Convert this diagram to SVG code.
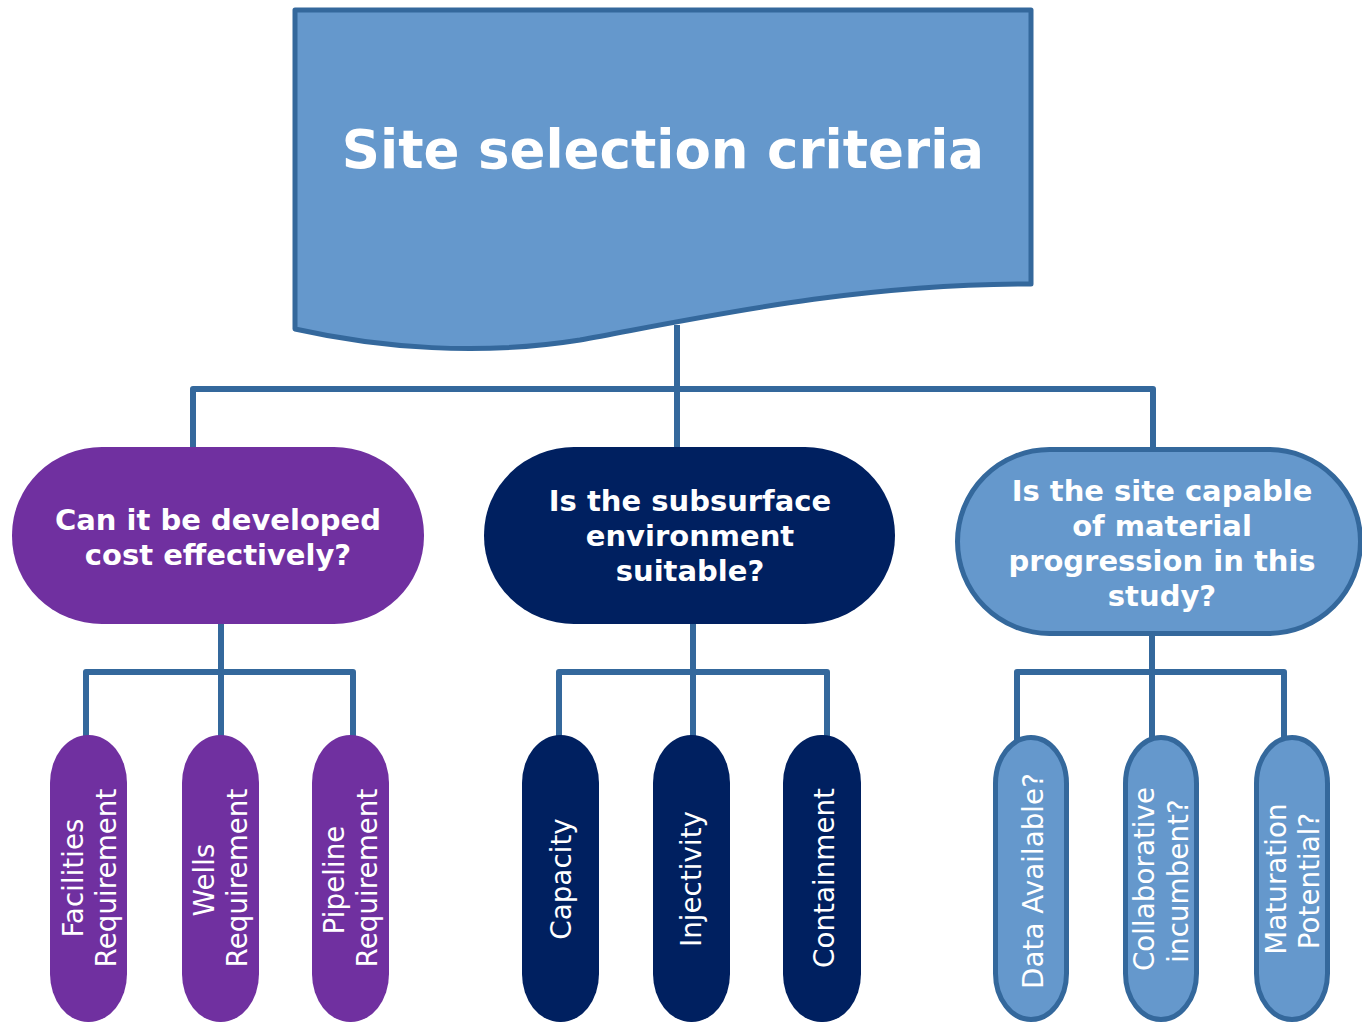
<svg xmlns="http://www.w3.org/2000/svg" width="1362" height="1023" viewBox="0 0 1362 1023">
<style>
.conn{fill:none;stroke:#34689c;stroke-width:6;stroke-linejoin:round}
.purple{fill:#7030a0}
.navy{fill:#002060}
.light{fill:#6598cc;stroke:#34689c;stroke-width:5}
.bold{font-family:"DejaVu Sans",Verdana,sans-serif;font-weight:bold;fill:#fff;text-anchor:middle}
.mid{font-size:29px}
.small{font-family:"DejaVu Sans",Verdana,sans-serif;font-size:27.8px;fill:#fff;text-anchor:middle}
</style>
<g id="connectors">
<path class="conn" d="M677,325 V389 M193,450 V389 H1153 V452 M677,389 V450"/>
<path class="conn" d="M221,622 V672 M86,738 V672 H353 V738 M221,672 V738"/>
<path class="conn" d="M693,622 V672 M559,738 V672 H827 V738 M693,672 V738"/>
<path class="conn" d="M1152,632 V672 M1017,740 V672 H1284 V740 M1152,672 V740"/>
</g>
<g id="root">
<path d="M295,10 L1031,10 L1031,284 C850,284 700,318 580,340 C480,356 380,348 295,329 Z" fill="#6598cc" stroke="#34689c" stroke-width="5" stroke-linejoin="round"/>
<text class="bold" x="663" y="168" font-size="53">Site selection criteria</text>
</g>
<g id="cost">
<rect class="purple" x="12" y="447" width="412" height="177" rx="90" ry="88"/>
<text class="bold mid" x="218" y="530">Can it be developed</text>
<text class="bold mid" x="218" y="565">cost effectively?</text>
</g>
<g id="subsurface">
<rect class="navy" x="484" y="447" width="411" height="177" rx="90" ry="88"/>
<text class="bold mid" x="690" y="511">Is the subsurface</text>
<text class="bold mid" x="690" y="546">environment</text>
<text class="bold mid" x="690" y="581">suitable?</text>
</g>
<g id="progression">
<rect class="light" x="957.5" y="449.5" width="403" height="184" rx="92" ry="92"/>
<text class="bold mid" x="1162" y="501">Is the site capable</text>
<text class="bold mid" x="1162" y="536">of material</text>
<text class="bold mid" x="1162" y="571">progression in this</text>
<text class="bold mid" x="1162" y="606">study?</text>
</g>
<g id="facilities">
<rect class="purple" x="50" y="735" width="77" height="287" rx="38" ry="48"/>
<text class="small" transform="translate(83,878) rotate(-90)">Facilities</text>
<text class="small" transform="translate(116,878) rotate(-90)">Requirement</text>
</g>
<g id="wells">
<rect class="purple" x="182" y="735" width="77" height="287" rx="38" ry="48"/>
<text class="small" transform="translate(214,880) rotate(-90)">Wells</text>
<text class="small" transform="translate(247,878) rotate(-90)">Requirement</text>
</g>
<g id="pipeline">
<rect class="purple" x="312" y="735" width="77" height="287" rx="38" ry="48"/>
<text class="small" transform="translate(344,880) rotate(-90)">Pipeline</text>
<text class="small" transform="translate(377,878) rotate(-90)">Requirement</text>
</g>
<g id="capacity">
<rect class="navy" x="522" y="735" width="77" height="287" rx="38" ry="48"/>
<text class="small" transform="translate(571,879) rotate(-90)">Capacity</text>
</g>
<g id="injectivity">
<rect class="navy" x="653" y="735" width="77" height="287" rx="38" ry="48"/>
<text class="small" transform="translate(701,879) rotate(-90)">Injectivity</text>
</g>
<g id="containment">
<rect class="navy" x="783" y="735" width="78" height="287" rx="38" ry="48"/>
<text class="small" transform="translate(834,878) rotate(-90)">Containment</text>
</g>
<g id="data">
<rect class="light" x="995.5" y="737.5" width="71" height="282" rx="35.5" ry="46"/>
<text class="small" transform="translate(1043,881) rotate(-90)">Data Available?</text>
</g>
<g id="collaborative">
<rect class="light" x="1125.5" y="737.5" width="71" height="282" rx="35.5" ry="46"/>
<text class="small" transform="translate(1154,879) rotate(-90)">Collaborative</text>
<text class="small" transform="translate(1188,881) rotate(-90)">incumbent?</text>
</g>
<g id="maturation">
<rect class="light" x="1256.5" y="737.5" width="71" height="282" rx="35.5" ry="46"/>
<text class="small" transform="translate(1286,879) rotate(-90)">Maturation</text>
<text class="small" transform="translate(1319,881) rotate(-90)">Potential?</text>
</g>
</svg>
